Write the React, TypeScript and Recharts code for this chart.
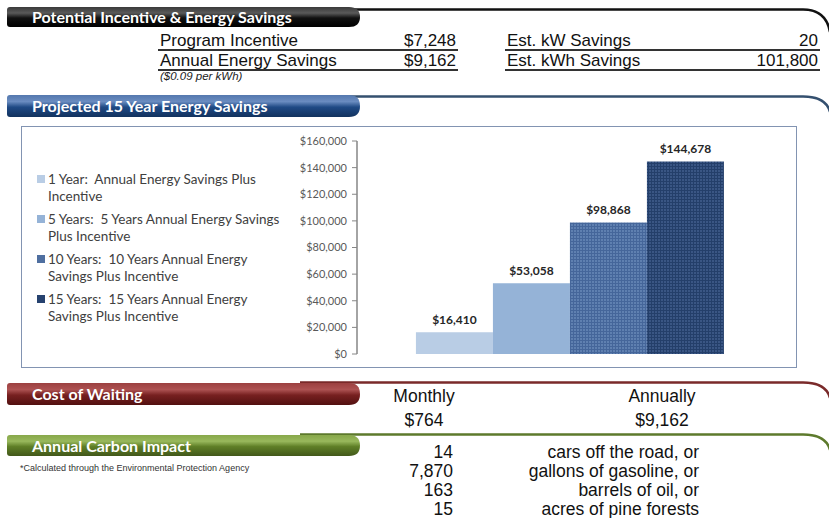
import React from "react";
import { Bar, BarChart, LabelList, Legend, XAxis, YAxis } from "recharts";

// projected savings, one bar per horizon
const seriesKeys = ["y1", "y5", "y10", "y15"];
const seriesValues = [16410, 53058, 98868, 144678];
const seriesNames = [
  "1 Year:  Annual Energy Savings Plus\nIncentive",
  "5 Years:  5 Years Annual Energy Savings\nPlus Incentive",
  "10 Years:  10 Years Annual Energy\nSavings Plus Incentive",
  "15 Years:  15 Years Annual Energy\nSavings Plus Incentive",
];
const swatchColors = ["#b9cde5", "#95b3d7", "#4f6fa0", "#26426f"];
const barFills = ["#b9cde5", "#95b3d7", "url(#pat10)", "url(#pat15)"];
const yTicks = [0, 20000, 40000, 60000, 80000, 100000, 120000, 140000, 160000];

const incentiveRows = [
  ["Program Incentive", "$7,248"],
  ["Annual Energy Savings", "$9,162"],
];
const kwRows = [
  ["Est. kW Savings", "20"],
  ["Est. kWh Savings", "101,800"],
];
const waitingHeads = ["Monthly", "Annually"];
const waitingValues = ["$764", "$9,162"];
const carbonValues = ["14", "7,870", "163", "15"];
const carbonLabels = ["cars off the road, or", "gallons of gasoline, or", "barrels of oil, or", "acres of pine forests"];

const chartData = [
  seriesKeys.reduce((row: any, k, i) => {
    row[k] = seriesValues[i];
    return row;
  }, { name: "Savings" }),
];

const money = (v: number) => "$" + v.toLocaleString("en-US");

const sans = "'Liberation Sans', Arial, sans-serif";
const calib = "Lato, 'Open Sans', sans-serif";

function bannerPath(x0: number, y0: number, x1: number, y1: number) {
  const m = (y0 + y1) / 2;
  return `M${x0 + 3} ${y0} H${x1 - 11} Q${x1} ${y0} ${x1} ${m} Q${x1} ${y1} ${x1 - 11} ${y1} H${x0 + 3} Q${x0} ${y1} ${x0} ${y1 - 3} V${y0 + 3} Q${x0} ${y0} ${x0 + 3} ${y0} Z`;
}

const banners = [
  { id: "gBlack", title: "Potential Incentive & Energy Savings", y0: 7, y1: 27, line: 9.5, end: 32, stroke: "#111", c: ["#3a3a3a", "#5a5a5a", "#111", "#000"] },
  { id: "gBlue", title: "Projected 15 Year Energy Savings", y0: 95, y1: 117, line: 96.5, end: 112, stroke: "#34506f", c: ["#5478ae", "#6a8cc0", "#1f4a85", "#12325e"] },
  { id: "gRed", title: "Cost of Waiting", y0: 383, y1: 405, line: 382.5, end: 398, stroke: "#7a2a2a", c: ["#9c4040", "#ad5252", "#772020", "#521010"] },
  { id: "gGreen", title: "Annual Carbon Impact", y0: 435, y1: 456, line: 434.5, end: 450, stroke: "#5d7a2c", c: ["#88a84a", "#98b85c", "#5f7f27", "#42581a"] },
];

function Frame() {
  return (
    <svg width={829} height={518} style={{ position: "absolute", left: 0, top: 0 }}>
      <defs>
        {banners.map((b) => (
          <linearGradient key={b.id} id={b.id} x1="0" y1="0" x2="0" y2="1">
            <stop offset="0" stopColor={b.c[0]} />
            <stop offset="0.3" stopColor={b.c[1]} />
            <stop offset="0.55" stopColor={b.c[2]} />
            <stop offset="1" stopColor={b.c[3]} />
          </linearGradient>
        ))}
      </defs>
      {banners.map((b) => (
        <g key={b.id}>
          <path
            d={`M300 ${b.line} H803 Q826 ${b.line} 830 ${b.end}`}
            fill="none"
            stroke={b.stroke}
            strokeWidth={2.5}
          />
          <path d={bannerPath(7, b.y0, 360, b.y1)} fill={`url(#${b.id})`} />
        </g>
      ))}
    </svg>
  );
}

function LegendBox() {
  return (
    <div style={{ fontFamily: calib, fontSize: 13.5, color: "#404040", lineHeight: "16.5px" }}>
      {seriesNames.map((n, i) => (
        <div key={n} style={{ display: "flex", marginBottom: 7 }}>
          <div style={{ width: 8, height: 8, background: swatchColors[i], marginTop: 4, marginRight: 3, flex: "none" }} />
          <div style={{ whiteSpace: "pre" }}>{n}</div>
        </div>
      ))}
    </div>
  );
}

const bigText = { fontFamily: sans, fontSize: 17.5, lineHeight: "18px", color: "#111" };

export default function App() {
  return (
    <div style={{ position: "absolute", left: 0, top: 0, width: 829, height: 518, background: "#fff", overflow: "hidden" }}>
      <Frame />
      {banners.map((b) => (
        <div
          key={b.title}
          style={{
            position: "absolute",
            left: 32,
            top: b.y0,
            height: b.y1 - b.y0,
            lineHeight: `${b.y1 - b.y0}px`,
            color: "#fff",
            fontFamily: calib,
            fontWeight: 700,
            fontSize: 16,
          }}
        >
          {b.title}
        </div>
      ))}

      {[incentiveRows, kwRows].map((rows, t) =>
        rows.map((r, i) => (
          <div
            key={r[0]}
            style={{
              position: "absolute",
              left: t === 0 ? 158 : 505,
              width: t === 0 ? 296 : 311,
              top: 31 + i * 20,
              height: 18,
              lineHeight: "19px",
              borderBottom: "2px solid #333",
              display: "flex",
              justifyContent: "space-between",
              fontFamily: sans,
              fontSize: 17,
              color: "#111",
              padding: "0 2px",
              boxSizing: "content-box",
            }}
          >
            <span>{r[0]}</span>
            <span>{r[1]}</span>
          </div>
        ))
      )}
      <div style={{ position: "absolute", left: 160, top: 70, fontFamily: sans, fontStyle: "italic", fontSize: 11.5, color: "#222" }}>
        ($0.09 per kWh)
      </div>

      <div
        style={{
          position: "absolute",
          left: 21,
          top: 126,
          width: 776,
          height: 242,
          border: "1.5px solid #8294b2",
          boxSizing: "border-box",
        }}
      />
      <div style={{ position: "absolute", left: 21, top: 127 }}>
        <BarChart
          width={776}
          height={241}
          data={chartData}
          margin={{ top: 14, right: 13, bottom: 14, left: 276 }}
          barCategoryGap="13.8%"
          barGap={0}
        >
          <defs>
            <pattern id="pat10" width="3" height="3" patternUnits="userSpaceOnUse">
              <rect width="3" height="3" fill="#5f80b0" />
              <path d="M0 0.5H3M0.5 0V3" stroke="#45669a" strokeWidth={1} />
            </pattern>
            <pattern id="pat15" width="3" height="3" patternUnits="userSpaceOnUse">
              <rect width="3" height="3" fill="#3a5684" />
              <path d="M0 0.5H3M0.5 0V3" stroke="#243f6a" strokeWidth={1} />
            </pattern>
          </defs>
          <XAxis dataKey="name" hide />
          <YAxis
            domain={[0, 160000]}
            ticks={yTicks}
            tickFormatter={money}
            width={60}
            interval={0}
            axisLine={{ stroke: "#868686", strokeWidth: 1.5 }}
            tickLine={{ stroke: "#868686" }}
            tickSize={5}
            tickMargin={5}
            tick={{ fill: "#595959", fontSize: 11, fontFamily: calib }}
          />
          <Legend
            layout="vertical"
            align="center"
            verticalAlign="middle"
            content={() => <LegendBox />}
            wrapperStyle={{ left: 16, top: 44, width: 300 }}
          />
          {seriesKeys.map((k, i) => (
            <Bar key={k} dataKey={k} name={seriesNames[i]} fill={barFills[i]} isAnimationActive={false}>
              <LabelList
                dataKey={k}
                position="top"
                offset={8}
                formatter={(v: any) => money(Number(v))}
                style={{ fill: "#262626", fontSize: 12, fontWeight: 700, fontFamily: calib }}
              />
            </Bar>
          ))}
        </BarChart>
      </div>

      {waitingHeads.map((h, i) => (
        <div key={h} style={{ ...bigText, position: "absolute", left: i === 0 ? 374 : 612, width: 100, textAlign: "center", top: 387 }}>
          {h}
        </div>
      ))}
      {waitingValues.map((v, i) => (
        <div key={i} style={{ ...bigText, position: "absolute", left: i === 0 ? 374 : 612, width: 100, textAlign: "center", top: 411 }}>
          {v}
        </div>
      ))}

      <div style={{ position: "absolute", left: 20, top: 463, fontFamily: sans, fontSize: 9, color: "#333" }}>
        *Calculated through the Environmental Protection Agency
      </div>
      {carbonValues.map((v, i) => (
        <div key={i} style={{ ...bigText, position: "absolute", left: 373, width: 80, textAlign: "right", top: 443 + i * 19 }}>
          {v}
        </div>
      ))}
      {carbonLabels.map((v, i) => (
        <div key={v} style={{ ...bigText, position: "absolute", left: 460, width: 239, textAlign: "right", top: 443 + i * 19 }}>
          {v}
        </div>
      ))}
    </div>
  );
}
